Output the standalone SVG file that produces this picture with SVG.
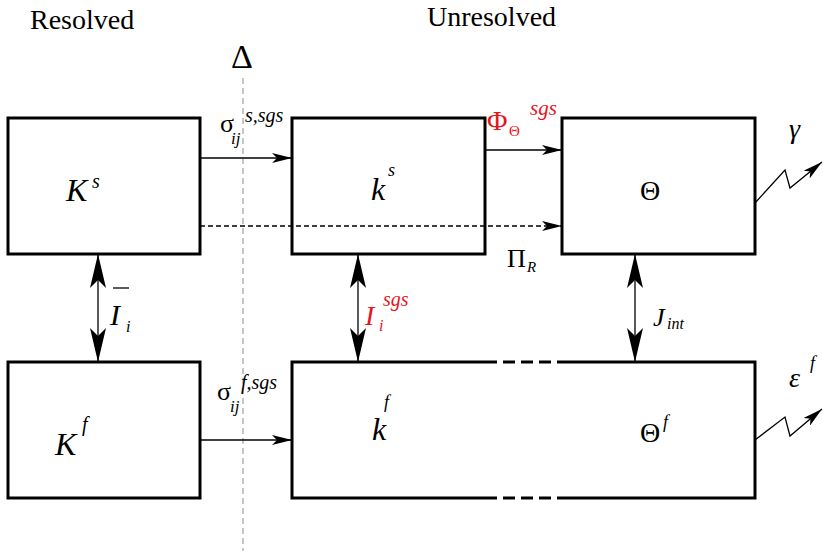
<svg xmlns="http://www.w3.org/2000/svg" width="823" height="551" viewBox="0 0 823 551">
<style>
.box{fill:#fff;stroke:#000;stroke-width:3}
.ln{stroke:#000;stroke-width:1.3;fill:none}
text{font-family:'Liberation Serif','Times New Roman','DejaVu Serif',serif;fill:#000}
.i{font-style:italic}
.r{fill:#e8141c}
</style>
<defs>
<marker id="ah" viewBox="0 0 20 10" refX="20" refY="5" markerWidth="20" markerHeight="10" markerUnits="userSpaceOnUse" orient="auto">
<path d="M0,0 L20,5 L0,10 L5,5 Z" fill="#000"/>
</marker>
<marker id="bigs" viewBox="0 0 34 16" refX="34" refY="8" markerWidth="34" markerHeight="16" markerUnits="userSpaceOnUse" orient="auto-start-reverse">
<path d="M34,8 L0,0 L8,8 L0,16 Z" fill="#000"/>
</marker>
</defs>
<text x="30" y="29" font-size="28">Resolved</text>
<text x="427" y="26" font-size="28">Unresolved</text>
<text x="231" y="68" font-size="34">Δ</text>
<line x1="243" y1="78" x2="243" y2="551" stroke="#aaa" stroke-width="1.3" stroke-dasharray="6,4"/>
<g id="Ks">
<rect class="box" x="8" y="118" width="192" height="136"/>
<text class="i" font-size="32"><tspan x="66" y="201">K</tspan><tspan x="92" y="188" font-size="20">s</tspan></text>
</g>
<g id="ks">
<rect class="box" x="292" y="118" width="193" height="136"/>
<text class="i" font-size="32"><tspan x="371" y="200">k</tspan><tspan x="388" y="176" font-size="18">s</tspan></text>
</g>
<g id="Theta">
<rect class="box" x="562" y="118" width="193" height="136"/>
<text x="640" y="200" font-size="28">Θ</text>
</g>
<g id="Kf">
<rect class="box" x="8" y="362" width="192" height="136"/>
<text class="i" font-size="32"><tspan x="55" y="455">K</tspan><tspan x="82" y="431" font-size="20">f</tspan></text>
</g>
<g id="kf">
<path class="box" d="M485,362 L292,362 L292,498 L485,498 M560,362 L755,362 L755,498 L560,498"/>
<path d="M485,362 L560,362 M485,498 L560,498" stroke="#000" stroke-width="3" stroke-dasharray="12,6"/>
<text class="i" font-size="32"><tspan x="372" y="440">k</tspan><tspan x="384" y="408" font-size="18">f</tspan></text>
<text font-size="28"><tspan x="640" y="442">Θ</tspan><tspan class="i" x="663" y="428" font-size="18">f</tspan></text>
</g>
<g id="connectors">
<line class="ln" x1="200" y1="158" x2="292" y2="158" marker-end="url(#ah)"/>
<line class="ln" x1="485" y1="150" x2="562" y2="150" marker-end="url(#ah)"/>
<line class="ln" x1="200" y1="226" x2="562" y2="226" stroke-dasharray="5,3" marker-end="url(#ah)"/>
<line class="ln" x1="200" y1="440" x2="292" y2="440" marker-end="url(#ah)"/>
<line class="ln" x1="98" y1="254" x2="98" y2="362" marker-start="url(#bigs)" marker-end="url(#bigs)"/>
<line class="ln" x1="358" y1="254" x2="358" y2="362" marker-start="url(#bigs)" marker-end="url(#bigs)"/>
<line class="ln" x1="635" y1="254" x2="635" y2="362" marker-start="url(#bigs)" marker-end="url(#bigs)"/>
<polyline class="ln" points="755,203 785,170 790,188 822,162" marker-end="url(#ah)"/>
<polyline class="ln" points="755,440 785,417 790,436 822,409" marker-end="url(#ah)"/>
</g>
<text font-size="26"><tspan x="220" y="132">σ</tspan><tspan class="i" x="231" y="144" font-size="17">ij</tspan><tspan class="i" x="245" y="122" font-size="20">s,sgs</tspan></text>
<text class="r" font-size="28"><tspan x="487" y="130">Φ</tspan><tspan x="509" y="136" font-size="15">Θ</tspan><tspan class="i" x="530" y="115" font-size="21">sgs</tspan></text>
<text class="i" x="789" y="138" font-size="28">γ</text>
<text font-size="26"><tspan x="507" y="267">Π</tspan><tspan class="i" x="527" y="272" font-size="15">R</tspan></text>
<line x1="113" y1="288" x2="129" y2="288" stroke="#000" stroke-width="1.3"/>
<text class="i" font-size="30"><tspan x="110" y="325">I</tspan><tspan x="126" y="332" font-size="16">i</tspan></text>
<text class="i r" font-size="28"><tspan x="365" y="325">I</tspan><tspan x="379" y="331" font-size="16">i</tspan><tspan x="383" y="306" font-size="20">sgs</tspan></text>
<text class="i" font-size="26"><tspan x="653" y="326">J</tspan><tspan x="667" y="329" font-size="16">int</tspan></text>
<text font-size="26"><tspan x="217" y="400">σ</tspan><tspan class="i" x="230" y="412" font-size="17">ij</tspan><tspan class="i" x="241" y="389" font-size="20">f,sgs</tspan></text>
<text class="i" font-size="28"><tspan x="789" y="387">ε</tspan><tspan x="810" y="369" font-size="18">f</tspan></text>
</svg>
